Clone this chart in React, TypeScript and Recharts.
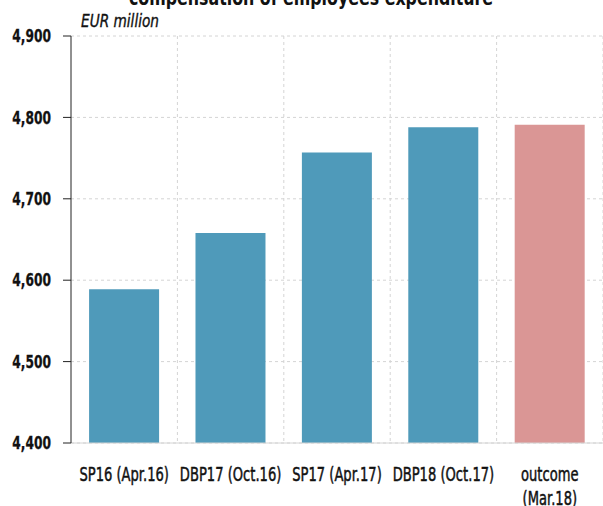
import React from 'react';
import { BarChart, Bar, XAxis, YAxis, CartesianGrid, Cell } from 'recharts';

const categories = ['SP16 (Apr.16)', 'DBP17 (Oct.16)', 'SP17 (Apr.17)', 'DBP18 (Oct.17)', 'outcome\n(Mar.18)'];
const values = [4589, 4658, 4757, 4788, 4791];
const barColors = ['#4f9aba', '#4f9aba', '#4f9aba', '#4f9aba', '#da9695'];
const yTicks = [4400, 4500, 4600, 4700, 4800, 4900];

const FONT = '"DejaVu Sans", sans-serif';
// narrow the DejaVu glyphs to get a condensed look
const NARROW = 0.69;

const data = categories.map((name, i) => ({ name, value: values[i] }));

const CategoryTick = ({ x, y, payload }: any) => {
  const lines = String(payload.value).split('\n');
  return (
    <g transform={`translate(${x},${y})`}>
      <text
        transform={`scale(${NARROW},1)`}
        textAnchor="middle"
        fontFamily={FONT}
        fontSize={19}
        fill="#111"
        stroke="#111"
        strokeWidth={0.5}
      >
        {lines.map((line, i) => (
          <tspan key={i} x={0} y={30 + i * 24}>
            {line}
          </tspan>
        ))}
      </text>
    </g>
  );
};

const ValueTick = ({ x, y, payload }: any) => (
  <g transform={`translate(${x},${y})`}>
    <text
      transform="scale(0.72,1)"
      textAnchor="end"
      dy="0.36em"
      fontFamily={FONT}
      fontWeight="bold"
      fontSize={17}
      fill="#111"
      stroke="#111"
      strokeWidth={0.3}
    >
      {Number(payload.value).toLocaleString('en-US')}
    </text>
  </g>
);

// grid lines sit between the categories, not at their centres
const categoryBoundaries = ({ offset }: any) => {
  const step = offset.width / categories.length;
  return categories.map((_, i) => offset.left + step * (i + 1));
};

export default function App() {
  return (
    <div style={{ position: 'relative', width: 603, height: 506, overflow: 'hidden', background: '#fff' }}>
      <style>{'body{margin:0}'}</style>
      <BarChart
        width={603}
        height={506}
        data={data}
        margin={{ top: 36, right: 0, left: 0, bottom: 13 }}
        barCategoryGap="17%"
      >
        <CartesianGrid
          stroke="#d4d4d4"
          strokeDasharray="3 3"
          verticalCoordinatesGenerator={categoryBoundaries}
        />
        <XAxis
          dataKey="name"
          interval={0}
          height={50}
          tickLine={false}
          axisLine={{ stroke: '#d4d4d4' }}
          tick={<CategoryTick />}
        />
        <YAxis
          width={71}
          domain={[4400, 4900]}
          ticks={yTicks}
          interval={0}
          tickSize={8}
          tickMargin={12}
          axisLine={{ stroke: '#222' }}
          tickLine={{ stroke: '#222' }}
          tick={<ValueTick />}
        />
        <Bar dataKey="value" isAnimationActive={false}>
          {data.map((d, i) => (
            <Cell key={d.name} fill={barColors[i]} />
          ))}
        </Bar>
      </BarChart>
      <svg
        width={603}
        height={506}
        style={{ position: 'absolute', top: 0, left: 0, pointerEvents: 'none' }}
      >
        <g transform="translate(311,5)">
          <text transform="scale(0.72,1)" textAnchor="middle" fontFamily={FONT} fontWeight="bold" fontSize={22} fill="#111">
            compensation of employees expenditure
          </text>
        </g>
        <g transform="translate(81,26.5)">
          <text
            transform="scale(0.76,1)"
            fontFamily={FONT}
            fontStyle="italic"
            fontSize={18}
            fill="#111"
            stroke="#111"
            strokeWidth={0.4}
          >
            EUR million
          </text>
        </g>
      </svg>
    </div>
  );
}
